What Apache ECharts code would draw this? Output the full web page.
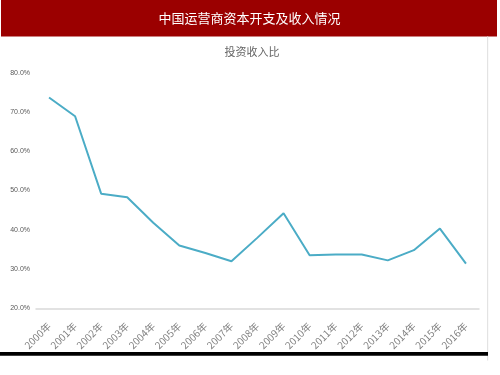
<!DOCTYPE html>
<html><head><meta charset="utf-8">
<script src="https://cdn.jsdelivr.net/npm/echarts@6/dist/echarts.min.js"></script>
<style>html,body{margin:0;padding:0;background:#fff}#c{width:500px;height:375px}</style>
</head><body><div id="c"></div>
<script>
const years = ['2000年','2001年','2002年','2003年','2004年','2005年','2006年','2007年','2008年','2009年','2010年','2011年','2012年','2013年','2014年','2015年','2016年'];
const ratio = [73.7, 68.9, 49.2, 48.3, 41.8, 36.0, 34.1, 32.0, 38.0, 44.2, 33.5, 33.7, 33.7, 32.2, 34.8, 40.3, 31.4];
const yTicks = [20, 30, 40, 50, 60, 70, 80];
const title = '中国运营商资本开支及收入情况';
const subtitle = '投资收入比';

const chart = echarts.init(document.getElementById('c'), null, {renderer: 'canvas'});
chart.setOption({
  animation: false,
  backgroundColor: '#fff',
  title: [{
    text: subtitle, left: 247, top: 41, textAlign: 'center',
    textStyle: {fontSize: 11, color: '#666666', fontWeight: 'normal', fontFamily: 'Noto Sans CJK SC'}
  }],
  grid: {left: 36, right: 21, top: 72.7, bottom: 66.7},
  xAxis: {
    type: 'category', data: years, boundaryGap: true,
    axisLine: {show: true, lineStyle: {color: '#d9d9d9', width: 1.5}},
    axisTick: {show: false},
    axisLabel: {rotate: 45, margin: 16, fontSize: 10, color: '#808080', fontFamily: 'Noto Sans CJK SC', interval: 0}
  },
  yAxis: {
    type: 'value', min: yTicks[0], max: yTicks[yTicks.length - 1], interval: 10,
    axisLine: {show: false}, axisTick: {show: false},
    splitLine: {show: false},
    axisLabel: {fontSize: 7, color: '#595959', margin: 6, formatter: v => v.toFixed(1) + '%'}
  },
  series: [{
    type: 'line', data: ratio, symbol: 'none',
    lineStyle: {color: '#4bacc6', width: 2},
    itemStyle: {color: '#4bacc6'}
  }],
  graphic: [
    {type: 'rect', shape: {x: 1, y: 0, width: 496, height: 36.5}, style: {fill: '#9b0000'}, z: 10},
    {type: 'text', x: 249.5, y: 18, style: {text: title, fill: '#fff', fontSize: 13, fontFamily: 'Noto Sans CJK SC', align: 'center', verticalAlign: 'middle'}, z: 11},
    {type: 'rect', shape: {x: 487, y: 36.5, width: 1.2, height: 324}, style: {fill: '#e3e3e3'}, z: 10},
    {type: 'rect', shape: {x: 0, y: 352, width: 488, height: 3.8}, style: {fill: '#000'}, z: 20}
  ]
});
</script></body></html>
